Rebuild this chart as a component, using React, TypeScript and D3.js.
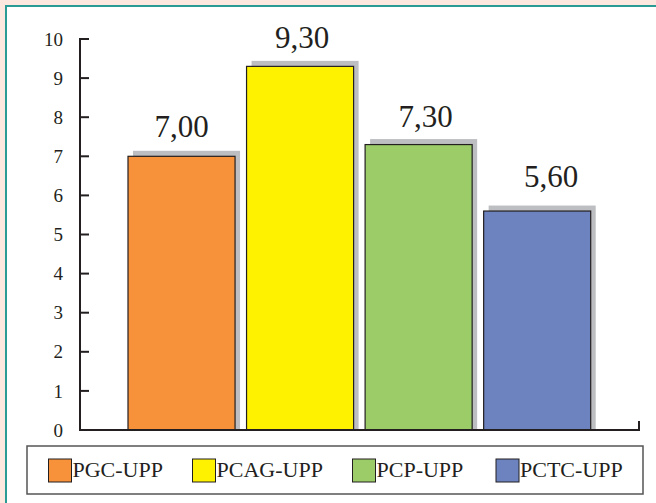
import React from "react";
import * as d3 from "d3";

const categories = ["PGC-UPP", "PCAG-UPP", "PCP-UPP", "PCTC-UPP"];
const values = [7.0, 9.3, 7.3, 5.6];
const colors = ["#f7923a", "#fff200", "#9ccc68", "#6c83bf"];
const yTicks = [0, 1, 2, 3, 4, 5, 6, 7, 8, 9, 10];

// label placement tweaks (style only)
const labelDx = [0, 2, 7, 14];
const labelDy = [19, 18, 18, 24];

const W = 656;
const H = 503;
const FONT = "Liberation Serif, Times New Roman, Times, serif";

export default function App() {
  const y = d3.scaleLinear().domain([0, 10]).range([430, 39]);
  const x = d3
    .scaleBand<string>()
    .domain(categories)
    .range([128, 590.7])
    .paddingInner(0.097)
    .paddingOuter(0);
  const bw = x.bandwidth();
  const fmt = (v: number) => v.toFixed(2).replace(".", ",");
  const legendX = [48.5, 192.5, 352.5, 496];

  return (
    <svg
      width={W}
      height={H}
      style={{ position: "absolute", left: 0, top: 0, fontFamily: FONT }}
    >
      <rect x={0} y={0} width={W} height={H} fill="#fde8df" />
      <rect x={6} y={6} width={W + 10} height={H + 10} fill="#ffffff" stroke="#2a9b95" strokeWidth={2} />

      {/* y axis */}
      <line x1={80} x2={80} y1={y(10) - 1} y2={y(0) + 1} stroke="#231f20" strokeWidth={2} />
      {yTicks.map((t) => (
        <g key={t}>
          <line x1={80} x2={89} y1={y(t)} y2={y(t)} stroke="#231f20" strokeWidth={2} />
          <text x={63} y={y(t)} dy="0.35em" textAnchor="end" fontSize={19} fill="#231f20" style={{ fontFamily: FONT }}>
            {t}
          </text>
        </g>
      ))}

      {/* bars */}
      {categories.map((c, i) => {
        const x0 = x(c)!;
        const top = y(values[i]);
        return (
          <g key={c}>
            <rect x={x0 + 5} y={top - 5.5} width={bw} height={y(0) - top + 5.5} fill="#bdbec1" />
            <rect x={x0} y={top} width={bw} height={y(0) - top} fill={colors[i]} stroke="#231f20" strokeWidth={1.2} />
            <text
              x={x0 + bw / 2 + labelDx[i]}
              y={top - labelDy[i]}
              textAnchor="middle"
              fontSize={31}
              fill="#231f20"
              style={{ fontFamily: FONT }}
            >
              {fmt(values[i])}
            </text>
          </g>
        );
      })}

      {/* x axis */}
      <line x1={79} x2={640} y1={y(0)} y2={y(0)} stroke="#231f20" strokeWidth={2} />
      <line x1={639} x2={639} y1={421} y2={y(0)} stroke="#231f20" strokeWidth={2} />

      {/* legend */}
      <rect x={27} y={446} width={616} height={48} fill="#ffffff" stroke="#555555" strokeWidth={1.5} />
      {categories.map((c, i) => (
        <g key={c}>
          <rect x={legendX[i]} y={459} width={23} height={23} fill={colors[i]} stroke="#231f20" strokeWidth={1} />
          <text x={legendX[i] + 24} y={476.5} fontSize={22} fill="#231f20" style={{ fontFamily: FONT }}>
            {c}
          </text>
        </g>
      ))}
    </svg>
  );
}
